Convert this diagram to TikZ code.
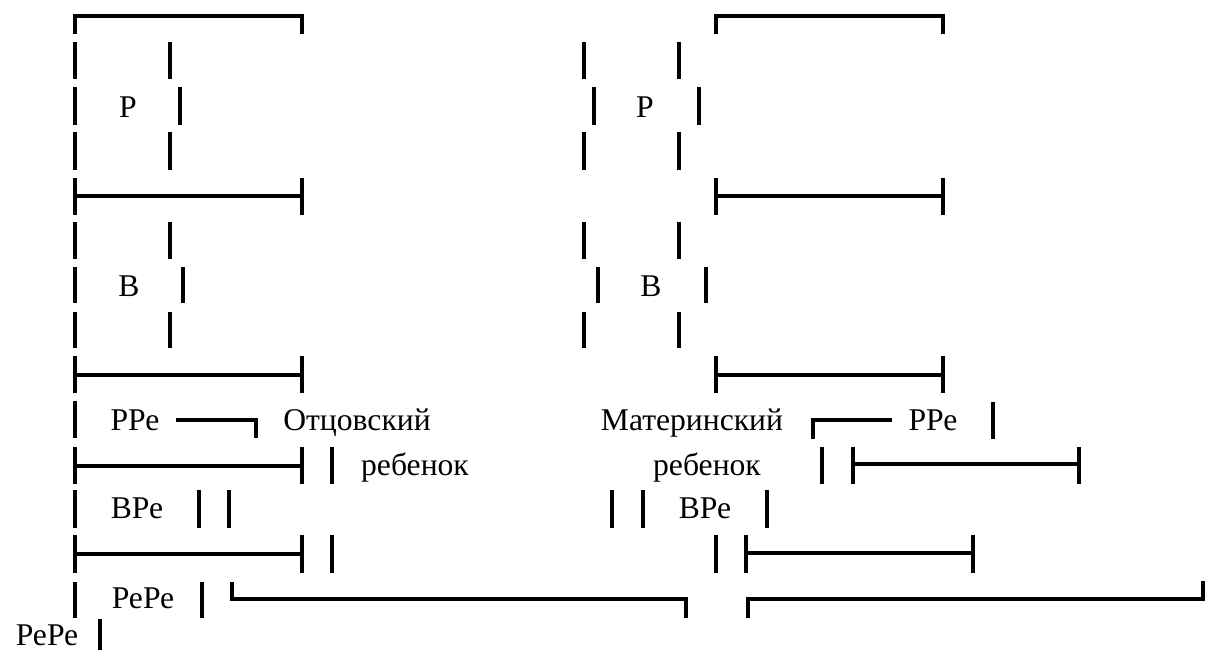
\documentclass[tikz,border=0pt]{standalone}
\usepackage{fontspec}
\setmainfont{Liberation Serif}
\begin{document}
\begin{tikzpicture}[x=0.02cm,y=-0.02cm]
    \tikzset{lbl/.style = {anchor=base,inner sep=0pt,
        font=\fontsize{18}{20}\selectfont}}
    \tikzset{bar/.style = {line width=2pt}}
    \useasboundingbox (0,0) rectangle (1226,650);

    % labels
    \node[lbl] (pl) at (128,117) {Р};
    \node[lbl] (bl) at (129,296) {В};
    \node[lbl] (ppel) at (135,430) {РРе};
    \node[lbl] (otc) at (357,430) {Отцовский};
    \node[lbl] (rebl) at (415,475) {ребенок};
    \node[lbl] (bpel) at (137,518) {ВРе};
    \node[lbl] (pepel) at (143,608) {РеРе};
    \node[lbl] (pepex) at (47,645) {РеРе};
    \node[lbl] (pr) at (645,117) {Р};
    \node[lbl] (br) at (651,296) {В};
    \node[lbl] (mat) at (692,430) {Материнский};
    \node[lbl] (pper) at (933,430) {РРе};
    \node[lbl] (rebr) at (707,475) {ребенок};
    \node[lbl] (bper) at (705,518) {ВРе};

    % left block
    \draw[bar] (75,34) -- (75,16) -- (302,16) -- (302,34);
    \draw[bar] (75,42) -- (75,79) (170,42) -- (170,79);
    \draw[bar] (75,87) -- (75,125) (180,87) -- (180,125);
    \draw[bar] (75,132) -- (75,170) (170,132) -- (170,170);
    \draw[bar] (75,178) -- (75,215) (302,178) -- (302,215) (75,196) -- (302,196);
    \draw[bar] (75,222) -- (75,259) (170,222) -- (170,259);
    \draw[bar] (75,267) -- (75,303) (183,267) -- (183,303);
    \draw[bar] (75,312) -- (75,348) (170,312) -- (170,348);
    \draw[bar] (75,356) -- (75,393) (302,356) -- (302,393) (75,375) -- (302,375);
    \draw[bar] (75,401) -- (75,438);
    \draw[bar] (176,420) -- (256,420) -- (256,438);
    \draw[bar] (75,447) -- (75,484) (302,447) -- (302,484) (75,466) -- (302,466);
    \draw[bar] (332,447) -- (332,484);
    \draw[bar] (75,490) -- (75,528) (199,490) -- (199,528) (229,490) -- (229,528);
    \draw[bar] (75,535) -- (75,573) (302,535) -- (302,573) (75,554) -- (302,554);
    \draw[bar] (332,535) -- (332,573);
    \draw[bar] (75,582) -- (75,618) (202,582) -- (202,618);
    \draw[bar] (232,582) -- (232,599) -- (686,599) -- (686,618);
    \draw[bar] (100,619) -- (100,650);

    % right block
    \draw[bar] (716,34) -- (716,16) -- (943,16) -- (943,34);
    \draw[bar] (584,42) -- (584,79) (679,42) -- (679,79);
    \draw[bar] (594,87) -- (594,125) (699,87) -- (699,125);
    \draw[bar] (584,132) -- (584,170) (679,132) -- (679,170);
    \draw[bar] (716,178) -- (716,215) (943,178) -- (943,215) (716,196) -- (943,196);
    \draw[bar] (584,222) -- (584,259) (679,222) -- (679,259);
    \draw[bar] (598,267) -- (598,303) (706,267) -- (706,303);
    \draw[bar] (584,312) -- (584,348) (679,312) -- (679,348);
    \draw[bar] (716,356) -- (716,393) (943,356) -- (943,393) (716,375) -- (943,375);
    \draw[bar] (813,439) -- (813,420) -- (892,420);
    \draw[bar] (993,402) -- (993,439);
    \draw[bar] (822,447) -- (822,484);
    \draw[bar] (853,447) -- (853,484) (1079,447) -- (1079,484) (853,464) -- (1079,464);
    \draw[bar] (612,490) -- (612,528) (643,490) -- (643,528) (767,490) -- (767,528);
    \draw[bar] (716,535) -- (716,573);
    \draw[bar] (746,535) -- (746,573) (973,535) -- (973,573) (746,553) -- (973,553);
    \draw[bar] (748,618) -- (748,599) -- (1203,599) -- (1203,581);
\end{tikzpicture}
\end{document}
